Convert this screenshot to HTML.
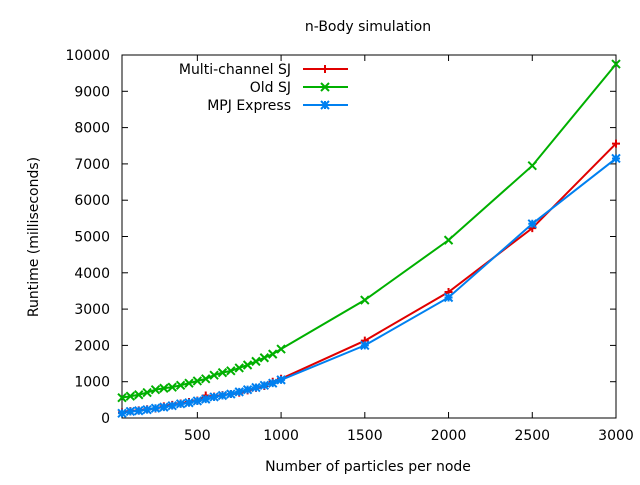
<!DOCTYPE html>
<html><head><meta charset="utf-8"><style>
body{margin:0;background:#fff;}
svg{font-family:"DejaVu Sans","Liberation Sans",sans-serif;font-size:14px;}
</style></head><body>
<svg id="chart" width="640" height="480">
<text x="368" y="31" text-anchor="middle">n-Body simulation</text>
<text x="368" y="471" text-anchor="middle">Number of particles per node</text>
<text transform="translate(38,237) rotate(-90)" text-anchor="middle">Runtime (milliseconds)</text>
<g id="axes"></g><g id="series"></g><g id="legend"></g>
</svg>
<script>
const xTicks=[500,1000,1500,2000,2500,3000];
const yTicks=[0,1000,2000,3000,4000,5000,6000,7000,8000,9000,10000];
const xs=[50,100,150,200,250,300,350,400,450,500,550,600,650,700,750,800,850,900,950,1000,1500,2000,2500,3000];
const multiSJ=[150,190,210,240,260,320,360,400,440,480,620,590,630,660,700,760,830,880,1000,1080,2130,3470,5230,7560];
const oldSJ=[560,600,640,700,780,820,850,900,960,1020,1080,1180,1250,1300,1380,1460,1560,1660,1760,1900,3250,4900,6950,9750];
const mpj=[130,180,200,230,270,300,340,390,420,470,520,580,620,660,720,780,840,900,960,1050,2000,3320,5350,7150];
const seriesNames=["Multi-channel SJ","Old SJ","MPJ Express"];
const NS="http://www.w3.org/2000/svg";
const L=122,R=616,T=55,B=418,xmin=50,xmax=3000,ymax=10000;
const X=v=>L+(v-xmin)/(xmax-xmin)*(R-L);
const Y=v=>B-v/ymax*(B-T);
function mk(tag,attrs,parent,txt){const e=document.createElementNS(NS,tag);for(const k in attrs)e.setAttribute(k,attrs[k]);if(txt!==undefined)e.textContent=txt;parent.appendChild(e);return e;}
const ax=document.getElementById('axes');
const frame=mk('rect',{x:L,y:T,width:R-L,height:B-T,fill:'none',stroke:'#000','stroke-width':1},ax);


xTicks.forEach(t=>{const x=X(t);
mk('line',{x1:x,x2:x,y1:B,y2:B-6,stroke:'#000'},ax);mk('line',{x1:x,x2:x,y1:T,y2:T+6,stroke:'#000'},ax);
const tx=mk('text',{x:x,y:B+22,'text-anchor':'middle'},ax,String(t));

});
yTicks.forEach(t=>{const y=Y(t);
mk('line',{x1:L,x2:L+6,y1:y,y2:y,stroke:'#000'},ax);mk('line',{x1:R,x2:R-6,y1:y,y2:y,stroke:'#000'},ax);
const tx=mk('text',{x:L-12,y:y+5,'text-anchor':'end'},ax,String(t));

});
const colors=['#e00000','#00b000','#0080f0'];
const datas=[multiSJ,oldSJ,mpj];
function marker(g,x,y,i){
 const s=4;
 if(i===0){mk('path',{d:`M${x-s} ${y}H${x+s}M${x} ${y-s}V${y+s}`,stroke:colors[i],'stroke-width':2},g);}
 else if(i===1){mk('path',{d:`M${x-s} ${y-s}L${x+s} ${y+s}M${x-s} ${y+s}L${x+s} ${y-s}`,stroke:colors[i],'stroke-width':2},g);}
 else{mk('path',{d:`M${x-s} ${y}H${x+s}M${x} ${y-s}V${y+s}M${x-s} ${y-s}L${x+s} ${y+s}M${x-s} ${y+s}L${x+s} ${y-s}`,stroke:colors[i],'stroke-width':2},g);}
}
const sg=document.getElementById('series');
const lg=document.getElementById('legend');
datas.forEach((d,i)=>{
 const g=mk('g',{},sg);
 
 
 mk('polyline',{points:xs.map((x,j)=>X(x)+','+Y(d[j])).join(' '),fill:'none',stroke:colors[i],'stroke-width':2},g);
 xs.forEach((x,j)=>marker(g,X(x),Y(d[j]),i));
 const ly=69+i*18;
 const le=mk('g',{},lg);
 
 
 mk('text',{x:291,y:ly+5,'text-anchor':'end'},le,seriesNames[i]);
 mk('line',{x1:303,x2:348,y1:ly,y2:ly,stroke:colors[i],'stroke-width':2},le);
 marker(le,325,ly,i);
});
</script>
</body></html>
